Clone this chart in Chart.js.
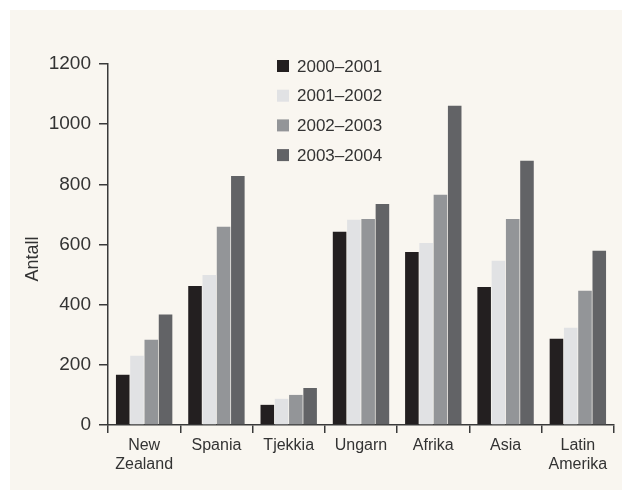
<!DOCTYPE html>
<html>
<head>
<meta charset="utf-8">
<script src="https://cdn.jsdelivr.net/npm/chart.js@4/dist/chart.umd.min.js"></script>
<style>
    html, body { margin: 0; padding: 0; background: #ffffff; }
    #wrap { position: relative; width: 622px; height: 490px; }
    canvas { display: block; }
</style>
</head>
<body>
<div id="wrap"><canvas id="chart" width="622" height="490"></canvas></div>
<script>
// categories and series
const categories = [['New', 'Zealand'], 'Spania', 'Tjekkia', 'Ungarn', 'Afrika', 'Asia', ['Latin', 'Amerika']];
const seriesLabels = ['2000–2001', '2001–2002', '2002–2003', '2003–2004'];
const values2000 = [167, 462, 67, 642, 575, 459, 287];
const values2001 = [230, 499, 87, 682, 605, 546, 323];
const values2002 = [283, 659, 100, 685, 765, 685, 446];
const values2003 = [367, 828, 123, 735, 1061, 878, 579];
const yTicks = [0, 200, 400, 600, 800, 1000, 1200];
const colors = ['#231f20', '#e1e2e4', '#939598', '#626366'];

const textColor = '#333333';
const axisColor = '#3a3a3a';
const fontFamily = '"Liberation Sans", Arial, sans-serif';

// beige card, the legend and the y title
const decorPlugin = {
    id: 'decor',
    beforeDraw(chart) {
        const ctx = chart.ctx;
        ctx.save();
        ctx.fillStyle = '#f9f6f0';
        ctx.fillRect(10, 10, chart.width - 10, chart.height - 10);
        ctx.restore();
    },
    afterDraw(chart) {
        const ctx = chart.ctx;
        ctx.save();
        ctx.font = '17px ' + fontFamily;
        ctx.textBaseline = 'middle';
        chart.data.datasets.forEach((ds, i) => {
            const y = 66 + i * 29.7;
            ctx.fillStyle = ds.backgroundColor;
            ctx.fillRect(277, y - 6, 12, 12);
            ctx.fillStyle = textColor;
            ctx.fillText(ds.label, 297, y + 1);
        });
        ctx.translate(33, 259);
        ctx.rotate(-Math.PI / 2);
        ctx.textAlign = 'center';
        ctx.font = '18px ' + fontFamily;
        ctx.fillText('Antall', 0, 0);
        ctx.restore();
    }
};

new Chart(document.getElementById('chart'), {
    type: 'bar',
    data: {
        labels: categories,
        datasets: [
            { label: seriesLabels[0], data: values2000, backgroundColor: colors[0] },
            { label: seriesLabels[1], data: values2001, backgroundColor: colors[1] },
            { label: seriesLabels[2], data: values2002, backgroundColor: colors[2] },
            { label: seriesLabels[3], data: values2003, backgroundColor: colors[3] },
        ]
    },
    options: {
        responsive: false,
        animation: false,
        datasets: {
            bar: {
                categoryPercentage: 0.79,
                barPercentage: 0.95
            }
        },
        layout: {
            padding: { left: 0, right: 8, top: 64, bottom: 0 }
        },
        scales: {
            x: {
                grid: {
                    display: true,
                    drawOnChartArea: false,
                    drawTicks: true,
                    tickLength: 8,
                    color: axisColor,
                    lineWidth: 1.5
                },
                border: { color: axisColor, width: 1.5 },
                ticks: {
                    color: textColor,
                    font: { family: fontFamily, size: 16 },
                    padding: 3,
                    maxRotation: 0
                },
                afterFit(scale) { scale.height = 65; }
            },
            y: {
                min: 0,
                max: 1200,
                afterBuildTicks(scale) {
                    scale.ticks = yTicks.map(v => ({ value: v }));
                },
                grid: {
                    display: true,
                    drawOnChartArea: false,
                    drawTicks: true,
                    tickLength: 9,
                    color: axisColor,
                    lineWidth: 1.5
                },
                border: { color: axisColor, width: 1.5 },
                ticks: {
                    color: textColor,
                    font: { family: fontFamily, size: 19 },
                    padding: 8,
                    callback: (value) => String(value)
                },
                afterFit(scale) { scale.width = 108; }
            }
        },
        plugins: {
            legend: { display: false },
            tooltip: { enabled: false }
        }
    },
    plugins: [decorPlugin]
});
</script>
</body>
</html>
